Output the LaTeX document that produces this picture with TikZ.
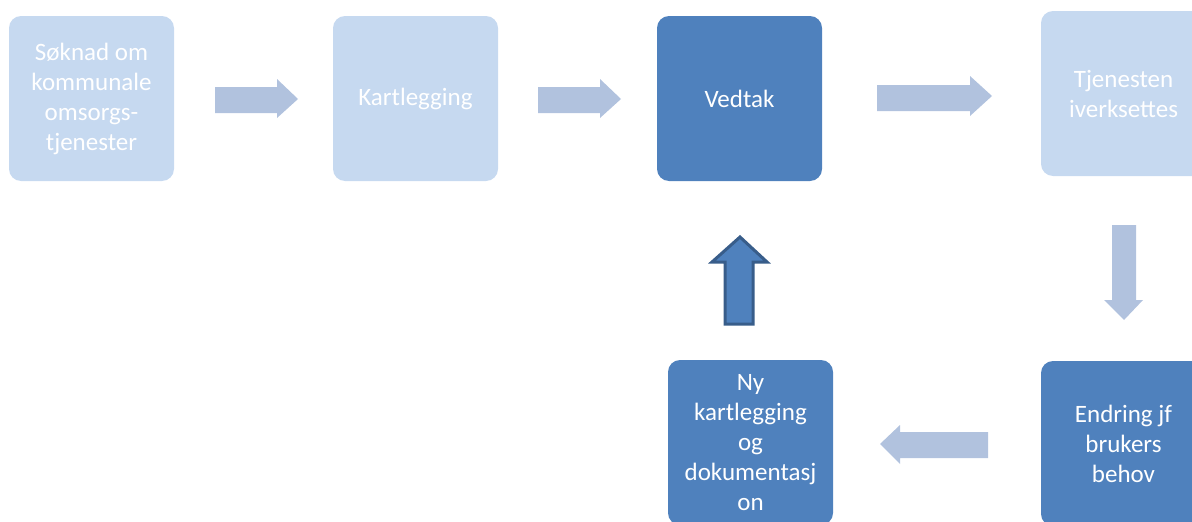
\documentclass[tikz,border=0pt]{standalone}
\usepackage{fontspec}
\setmainfont{Carlito}
\definecolor{lightbox}{HTML}{C6D9F0}
\definecolor{darkbox}{HTML}{4F81BD}
\definecolor{arrowlight}{HTML}{B1C2DE}
\definecolor{arrowedge}{HTML}{385D8A}
\begin{document}
\begin{tikzpicture}[x=1pt,y=-1pt,
  box/.style={rounded corners=12pt, minimum width=165pt, minimum height=165pt,
    inner sep=0pt, text=white, align=center, font=\fontsize{25}{30}\selectfont},
  lightstep/.style={box, fill=lightbox},
  darkstep/.style={box, fill=darkbox},
  blockarrow/.style={fill=arrowlight, draw=none},
  uparrow/.style={fill=darkbox, draw=arrowedge, line width=3pt, line join=miter}]
\useasboundingbox (0,0) rectangle (1192,522);
\begin{scope}
\clip (0,0) rectangle (1192,522);
% boxes
\node[lightstep] (soknad) at (91.5,98.5) {Søknad om\\kommunale\\omsorgs-\\tjenester};
\node[lightstep] (kart) at (415.5,98.5) {Kartlegging};
\node[darkstep] (vedtak) at (739.5,98.5) {Vedtak};
\node[lightstep] (tjen) at (1123.5,93.5) {Tjenesten\\iverksettes};
\node[darkstep] (endring) at (1123.5,443.5) {Endring jf\\brukers\\behov};
\node[darkstep] (ny) at (750.5,442.5) {Ny\\kartlegging\\og\\dokumentasj\\on};
% block arrows
\fill[blockarrow] (215,87) -- (277,87) -- (277,79) -- (298,99) -- (277,118) -- (277,113) -- (215,113) -- cycle;
\fill[blockarrow] (538,87) -- (600,87) -- (600,79) -- (621,99) -- (600,118) -- (600,113) -- (538,113) -- cycle;
\fill[blockarrow] (877,85) -- (970,85) -- (970,76) -- (992,96) -- (970,116) -- (970,111) -- (877,111) -- cycle;
\fill[blockarrow] (1112,225) -- (1136,225) -- (1136,300) -- (1143,300) -- (1124,320) -- (1104,300) -- (1112,300) -- cycle;
\fill[blockarrow] (988,432) -- (900,432) -- (900,425) -- (880,444) -- (900,464) -- (900,458) -- (988,458) -- cycle;
\draw[uparrow] (725,324) -- (725,262) -- (712,262) -- (740,237) -- (767,262) -- (753,262) -- (753,324) -- cycle;
\end{scope}
\end{tikzpicture}
\end{document}
